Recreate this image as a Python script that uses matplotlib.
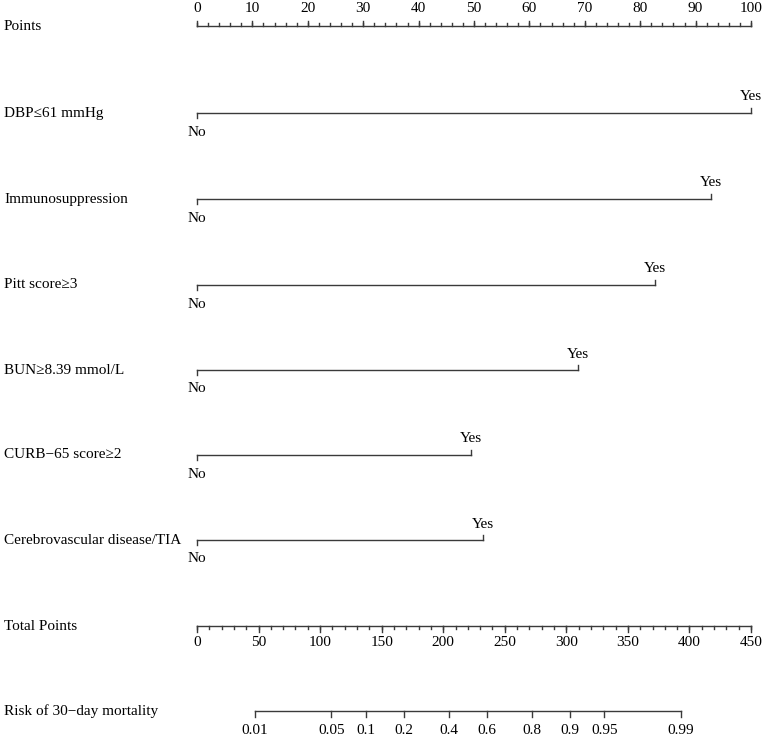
import numpy as np
import matplotlib
matplotlib.use("Agg")
import matplotlib.pyplot as plt

plt.rcParams["font.family"] = ["Liberation Serif", "DejaVu Serif"]
plt.rcParams["font.size"] = 11

# nomogram data
variables = [
    "DBP\u226461 mmHg",
    "Immunosuppression",
    "Pitt score\u22653",
    "BUN\u22658.39 mmol/L",
    "CURB\u221265 score\u22652",
    "Cerebrovascular disease/TIA",
]
yes_points = [100.0, 92.7, 82.7, 68.8, 49.4, 51.7]
level_labels = ["No", "Yes"]

points_major = np.arange(0, 101, 10)
points_minor = np.arange(0, 101, 2)
total_max = 450
total_major = np.arange(0, 451, 50)
total_minor = np.arange(0, 451, 10)
risk_ticks = [0.01, 0.05, 0.1, 0.2, 0.4, 0.6, 0.8, 0.9, 0.95, 0.99]
risk_labels = ["0.01", "0.05", "0.1", "0.2", "0.4", "0.6", "0.8", "0.9", "0.95", "0.99"]
lp_intercept = -5.846
lp_slope = 0.02656  # per total point

# layout (y in pixels from top)
row_y = [26, 113, 199, 285, 370, 455, 540, 626, 711]
px_per_pt = 5.54
x0_px = 197
W, H = 764, 738
col = "#3a3a3a"
lw = 1.0

fig = plt.figure(figsize=(W / 100, H / 100), dpi=100)
ax = fig.add_axes([0, 0, 1, 1])
ax.set_xlim(-x0_px / px_per_pt, (W - x0_px) / px_per_pt)
ax.set_ylim(H, 0)
ax.axis("off")

label_x = (4 - x0_px) / px_per_pt


def axis_row(y, major, minor, scale, labels, up_ticks, label_off):
    xs_major = [m * scale for m in major]
    xs_minor = [m * scale for m in minor]
    ax.plot([min(xs_major + xs_minor), max(xs_major + xs_minor)], [y, y], color=col, lw=lw)
    d = -1 if up_ticks else 1
    for x in xs_minor:
        ax.plot([x, x], [y, y + d * 3], color=col, lw=lw)
    for x, lab in zip(xs_major, labels):
        ax.plot([x, x], [y, y + d * 5.5], color=col, lw=lw)
        ax.text(x, y + d * label_off, lab, ha="center", va="center")


# Points
ax.text(label_x, row_y[0], "Points", ha="left", va="center")
axis_row(row_y[0], points_major, points_minor, 1.0,
         [str(v) for v in points_major], True, 17)

# variables
for i, (name, pts) in enumerate(zip(variables, yes_points)):
    y = row_y[i + 1]
    ax.text(label_x, y, name, ha="left", va="center")
    ax.plot([0, pts], [y, y], color=col, lw=lw)
    ax.plot([0, 0], [y, y + 5], color=col, lw=lw)
    ax.plot([pts, pts], [y, y - 5], color=col, lw=lw)
    ax.text(0, y + 19, level_labels[0], ha="center", va="center")
    ax.text(pts, y - 16, level_labels[1], ha="center", va="center")

# Total points
ax.text(label_x, row_y[7], "Total Points", ha="left", va="center")
axis_row(row_y[7], total_major, total_minor, 100 / total_max,
         [str(v) for v in total_major], False, 17)

# Risk
ax.text(label_x, row_y[8], "Risk of 30\u2212day mortality", ha="left", va="center")
risk_p = np.array(risk_ticks)
risk_total = (np.log(risk_p / (1 - risk_p)) - lp_intercept) / lp_slope
risk_x = risk_total * 100 / total_max
y = row_y[8]
ax.plot([risk_x.min(), risk_x.max()], [y, y], color=col, lw=lw)
for x, lab in zip(risk_x, risk_labels):
    ax.plot([x, x], [y, y + 5.5], color=col, lw=lw)
    ax.text(x, y + 19, lab, ha="center", va="center")

fig.savefig("out.png", dpi=100)
